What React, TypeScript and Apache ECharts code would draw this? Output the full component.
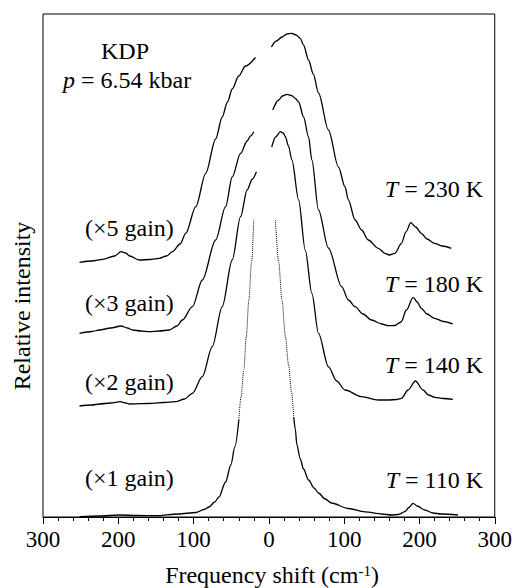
import React, { useEffect, useRef } from "react";
import * as echarts from "echarts";

const FONT = "Liberation Serif";

// x: frequency shift (cm-1, negative = anti-Stokes side), y: relative intensity (arbitrary, offset per trace)
const anti230 = [[-251.5,254.7],[-235,256],[-220.6,257.7],[-205,261],[-196.3,265.3],[-190,264],[-185,261],[-172.1,257],[-158,257.5],[-145.6,258.7],[-136,261],[-128.1,265.3],[-118,273],[-110.4,283.7],[-97.1,310.3],[-83.9,343.7],[-70.7,378],[-62,400],[-55,415],[-48.7,428],[-40,441],[-31,451],[-17.8,459.5]];
const stokes230 = [[3.4,470],[10,476],[17.4,480],[24,483],[30.6,483.7],[36,482],[41.7,478.7],[46,472],[52.7,457],[59,443],[65.9,424],[79.1,387],[92.4,350],[101.2,330],[105.6,317],[114.5,297],[123.2,287],[132,277],[145.3,268.7],[154.1,263.7],[160,262],[167.4,263.7],[176.1,273.7],[182,285],[188.5,294.3],[195,290],[202.5,283.7],[210,278],[220.2,273.7],[230,271],[242.2,268.7]];

const anti180 = [[-251.5,183.7],[-235,185.5],[-225.1,187],[-210,189],[-196.3,191],[-188,189],[-181,187],[-170,186],[-158.9,185.3],[-145,186],[-132.4,187],[-122,191],[-114.9,197],[-101.6,210.3],[-88.4,237],[-70.7,277],[-57.5,310.3],[-48.7,340],[-37.6,363.7],[-28.9,376],[-24.4,381],[-20,385.3]];
const stokes180 = [[5.1,407],[13,417],[18,421],[24,422.7],[30,421.5],[35.1,418.7],[39.5,415],[46.1,400],[52.7,380],[57.1,357],[65.9,307],[79.1,269],[96.7,230.3],[105.6,217],[114.5,210.3],[125,203],[136.4,197],[150,193],[158.5,191.3],[167,191.5],[175.6,195],[182.7,207],[191.6,219.7],[197,215],[202.5,208.7],[210,203],[220.2,198.7],[232,195.5],[244.4,193]];

const anti140 = [[-251.5,111],[-235,112],[-225.1,113],[-210,114],[-197.2,115.3],[-190,114],[-185.4,113],[-170,113.3],[-154.5,113.7],[-140,114.5],[-123.6,115.3],[-112,118],[-101.6,123.7],[-88.4,140.3],[-75.2,170.3],[-62,210.3],[-48.7,257],[-37.6,300.3],[-28.9,327],[-22,338],[-16.5,345.3]];
const stokes140 = [[3.8,370],[9,380],[15.3,385.3],[19,384],[21.9,380.3],[26,371],[30.6,357],[39.5,317],[48.3,267],[57.1,223.7],[65.9,183.7],[79.1,150.3],[90,136],[101.2,127],[123.2,120.3],[145.3,117],[158.5,117],[170,117.5],[176.1,118.7],[184.9,127],[194.6,136],[204.8,127],[212,122],[220.2,119.7],[232,118.5],[244.4,117.7]];

const anti110 = [[-251.5,0.3],[-225,1],[-198.6,2],[-175,1.5],[-150,1.3],[-120,3],[-97,4.5],[-86,7.5],[-79.5,10],[-72,15],[-66.3,20],[-57.5,35],[-50.5,52],[-45.2,70],[-39.9,97]];
const anti110Steep = [[-39.9,97],[-37,120],[-33.3,147],[-30,180],[-26.6,217],[-23,255],[-20,297]];
const stokes110Steep = [[8.7,297],[13,255],[17.4,217],[22,180],[26.2,152],[30,125],[33,100]];
const stokes110 = [[33,100],[35.1,88],[37.2,72],[41.7,58],[46,48],[52.7,37],[60,29],[65.9,24],[74.8,18],[83.1,14],[105.6,8.5],[127.7,5.2],[150,3],[162.9,2],[172,2.5],[180.6,5.3],[186,9.5],[191.6,13.7],[197,11],[207,7],[218,4],[229,3],[251.1,2]];

const tempLabels = ["230", "180", "140", "110"];
const gainLabels = ["5", "3", "2", "1"];
const sampleLabel = "KDP";
const pressureLabel = "6.54 kbar";
const xTitle = "Frequency shift (cm";
const yTitle = "Relative intensity";

export default function App() {
  const ref = useRef<HTMLDivElement>(null);
  useEffect(() => {
    if (!ref.current) return;
    const chart = echarts.init(ref.current, null, { renderer: "svg" });
    const FS = 24;
    const line = (name: string, data: number[][], dotted = false) => ({
      type: "line",
      name,
      data,
      symbol: "none",
      smooth: 0.3,
      smoothMonotone: "x",
      silent: true,
      lineStyle: { color: "#000", width: dotted ? 1 : 1.3, type: dotted ? "dotted" : "solid" },
    });
    const tY = [189, 284, 365, 480];
    const gY = [228, 303, 382, 478];
    const txt = (text: string, x: number, y: number, align: string, rich = true) => {
      const style: any = {
        text,
        fill: "#000",
        fontFamily: FONT,
        fontSize: FS,
        align,
        verticalAlign: "middle",
      };
      if (rich) style.rich = { i: { fontStyle: "italic", fontFamily: FONT, fontSize: FS, fill: "#000" } };
      return { type: "text", x, y, silent: true, style };
    };
    const graphics: any[] = [];
    tempLabels.forEach((t, k) => graphics.push(txt(`{i|T} = ${t} K`, 483, tY[k], "right")));
    gainLabels.forEach((g, k) => graphics.push(txt(`(×${g} gain)`, 85, gY[k], "left", false)));
    graphics.push(txt(sampleLabel, 125, 51, "center", false));
    graphics.push(txt(`{i|p} = ${pressureLabel}`, 63, 80, "left"));
    graphics.push({
      type: "text",
      x: 272,
      y: 575,
      silent: true,
      style: {
        text: `{n|${xTitle}}{s|-1}{n|)}`,
        align: "center",
        verticalAlign: "middle",
        fill: "#000",
        fontFamily: FONT,
        fontSize: FS,
        rich: {
          n: { fontFamily: FONT, fontSize: FS, fill: "#000", verticalAlign: "bottom" },
          s: { fontFamily: FONT, fontSize: 15, fill: "#000", verticalAlign: "top" },
        },
      },
    });
    graphics.push({
      type: "text",
      x: 22,
      y: 306,
      rotation: Math.PI / 2,
      silent: true,
      style: {
        text: yTitle,
        fill: "#000",
        fontFamily: FONT,
        fontSize: FS,
        align: "center",
        verticalAlign: "middle",
      },
    });

    chart.setOption({
      animation: false,
      backgroundColor: "#fff",
      grid: { left: 43, right: 18, top: 14, bottom: 71, show: true, borderColor: "#000", borderWidth: 1 },
      xAxis: {
        type: "value",
        min: -300,
        max: 300,
        interval: 100,
        axisLine: { lineStyle: { color: "#000", width: 1 } },
        axisTick: { length: 7, lineStyle: { color: "#000" } },
        minorTick: { show: true, splitNumber: 5, length: 4, lineStyle: { color: "#000" } },
        splitLine: { show: false },
        minorSplitLine: { show: false },
        axisLabel: {
          color: "#000",
          fontFamily: FONT,
          fontSize: 23,
          margin: 11,
          formatter: (v: number) => String(Math.abs(v)),
        },
      },
      yAxis: {
        type: "value",
        min: 0,
        max: 503,
        axisLine: { show: false },
        axisTick: { show: false },
        axisLabel: { show: false },
        splitLine: { show: false },
      },
      series: [
        line("T = 230 K", anti230),
        line("T = 230 K", stokes230),
        line("T = 180 K", anti180),
        line("T = 180 K", stokes180),
        line("T = 140 K", anti140),
        line("T = 140 K", stokes140),
        line("T = 110 K", anti110),
        line("T = 110 K", anti110Steep, true),
        line("T = 110 K", stokes110Steep, true),
        line("T = 110 K", stokes110),
      ],
      graphic: graphics,
    });
    return () => chart.dispose();
  }, []);
  return (
    <div
      ref={ref}
      style={{ position: "fixed", left: 0, top: 0, width: 515, height: 588, background: "#fff" }}
    />
  );
}
